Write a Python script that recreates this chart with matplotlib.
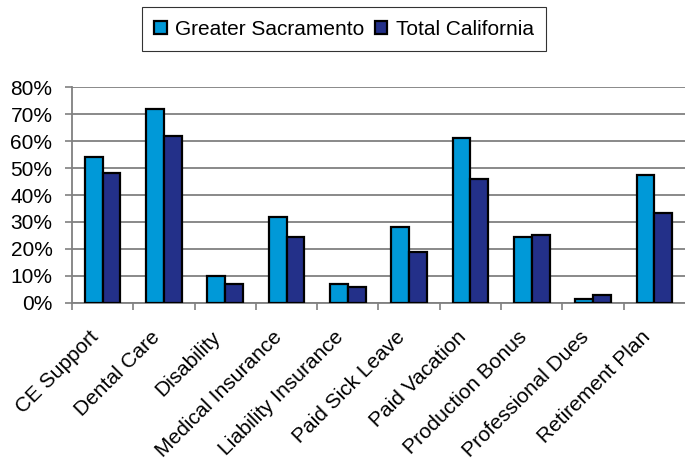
import numpy as np
from matplotlib import pyplot as plt
from matplotlib import transforms
from matplotlib.ticker import PercentFormatter, MultipleLocator

categories = ["CE Support", "Dental Care", "Disability", "Medical Insurance",
              "Liability Insurance", "Paid Sick Leave", "Paid Vacation",
              "Production Bonus", "Professional Dues", "Retirement Plan"]
greater_sacramento = [54, 72, 10, 32, 7, 28, 61, 24.5, 1.4, 47.5]
total_california = [48, 62, 7, 24.5, 5.8, 19, 46, 25.2, 2.8, 33.2]

plt.rcParams['font.family'] = ['Liberation Sans', 'DejaVu Sans']

fig = plt.figure(figsize=(6.85, 4.66), dpi=100)
ax = fig.add_axes([0.105, 0.350, 0.895, 0.463])

x = np.arange(len(categories))
w = 0.29
ax.bar(x - w / 2, greater_sacramento, w, color='#0099D8', edgecolor='black',
       linewidth=1.6, label="Greater Sacramento", zorder=3)
ax.bar(x + w / 2, total_california, w, color='#233089', edgecolor='black',
       linewidth=1.6, label="Total California", zorder=3)

ax.set_xlim(-0.5, len(categories) - 0.5)
ax.set_ylim(0, 80)
ax.yaxis.set_major_locator(MultipleLocator(10))
ax.yaxis.set_major_formatter(PercentFormatter(decimals=0))
ax.grid(axis='y', color='#808080', linewidth=1.3, zorder=0)

ax.set_xticks(x - 0.5, minor=False)
ax.set_xticklabels([])
ax.set_xticks(x, minor=True)
ax.set_xticklabels(categories, minor=True, rotation=45, ha='right',
                   rotation_mode='anchor', fontsize=15)
ax.tick_params(axis='x', which='minor', length=0, pad=17.5)
ax.tick_params(axis='x', which='major', length=5, color='#808080', width=1.2)
ax.tick_params(axis='y', length=5, color='#808080', width=1.2,
               labelsize=15, pad=9)

# nudge the slanted labels to the left
shift = transforms.ScaledTranslation(-14 / 100, 0, fig.dpi_scale_trans)
for lbl in ax.get_xticklabels(minor=True):
    lbl.set_transform(lbl.get_transform() + shift)

for side in ['top', 'right']:
    ax.spines[side].set_visible(False)
for side in ['left', 'bottom']:
    ax.spines[side].set_color('#808080')
    ax.spines[side].set_linewidth(1.3)

leg = fig.legend(loc='center', bbox_to_anchor=(0.502, 0.9375), ncol=2,
                 fontsize=15, frameon=True, fancybox=False, edgecolor='black',
                 handlelength=0.6, handleheight=0.6, handletextpad=0.4,
                 columnspacing=0.5, borderpad=0.6)
leg.get_frame().set_linewidth(0.8)

fig.savefig("out.png", dpi=100)
